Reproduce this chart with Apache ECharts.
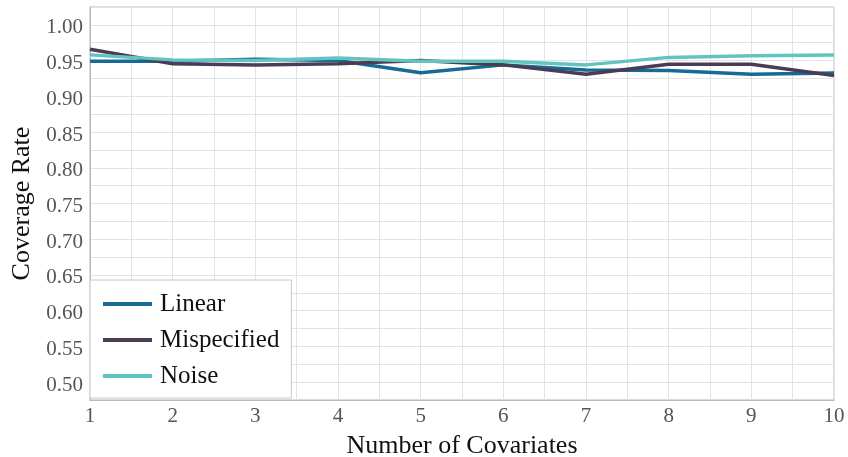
<!DOCTYPE html>
<html><head><meta charset="utf-8">
<script src="https://cdn.jsdelivr.net/npm/echarts@6/dist/echarts.min.js"></script>
<style>html,body{margin:0;padding:0;background:#fff}#c{width:848px;height:457px}</style>
</head><body><div id="c"></div>
<script>
const xValues = [1,2,3,4,5,6,7,8,9,10];
const linear = [0.949,0.949,0.952,0.950,0.933,0.944,0.937,0.936,0.931,0.9325];
const mispecified = [0.966,0.9455,0.944,0.9455,0.950,0.944,0.931,0.945,0.945,0.929];
const noise = [0.958,0.951,0.950,0.9535,0.949,0.949,0.944,0.9545,0.9567,0.9577];
const seriesNames = ['Linear','Mispecified','Noise'];
const colors = ['#166a97','#4b3c53','#62c4c1'];
const FONT = 'Liberation Serif';
const chart = echarts.init(document.getElementById('c'));
const mk = (arr) => xValues.map((x,i)=>[x,arr[i]]);
chart.setOption({
  animation:false,
  textStyle:{fontFamily:FONT},
  grid:{left:90,right:14,top:7,bottom:57,show:true,borderColor:'#b8b8b8',borderWidth:1,
    containLabel:false,outerBoundsMode:'none'},
  legend:{
    left:90,top:280,orient:'vertical',itemWidth:49,itemHeight:4,itemGap:8,
    backgroundColor:'#fff',borderColor:'#c8c8c8',borderWidth:1,padding:[10,12,8,13],
    textStyle:{fontFamily:FONT,fontSize:25,color:'#111',padding:[0,0,0,3],lineHeight:28},
    icon:'rect',
    data:seriesNames
  },
  xAxis:{type:'value',min:1,max:10,interval:0.5,
    name:'Number of Covariates',nameLocation:'middle',nameGap:33,
    nameTextStyle:{fontFamily:FONT,fontSize:26,color:'#111'},
    axisLine:{show:true,lineStyle:{color:'#b8b8b8'}},
    axisTick:{show:false},
    axisLabel:{fontFamily:FONT,fontSize:21,color:'#555',margin:6,
      formatter:v=>Math.abs(v-Math.round(v))<1e-6?String(Math.round(v)):''},
    splitLine:{show:true,lineStyle:{color:'#e3e3e3',width:1}}
  },
  yAxis:{type:'value',min:0.475,max:1.025,interval:0.025,
    name:'Coverage Rate',nameLocation:'middle',nameGap:55,
    nameTextStyle:{fontFamily:FONT,fontSize:26,color:'#111'},
    axisLine:{show:true,lineStyle:{color:'#b8b8b8'}},
    axisTick:{show:false},
    axisLabel:{fontFamily:FONT,fontSize:21,color:'#555',margin:7,
      formatter:v=>{const k=Math.round(v/0.025);return k%2===0?'{a|'+(k*0.025).toFixed(2)+'}':'';},
      rich:{a:{fontFamily:FONT,fontSize:21,color:'#555',padding:[6,0,0,0]}}},
    splitLine:{show:true,lineStyle:{color:'#e3e3e3',width:1}}
  },
  series:[
    {name:seriesNames[0],type:'line',data:mk(linear),showSymbol:false,color:colors[0],lineStyle:{width:3.5,color:colors[0]}},
    {name:seriesNames[1],type:'line',data:mk(mispecified),showSymbol:false,color:colors[1],lineStyle:{width:3.5,color:colors[1]}},
    {name:seriesNames[2],type:'line',data:mk(noise),showSymbol:false,color:colors[2],lineStyle:{width:3.5,color:colors[2]}}
  ]
});
</script></body></html>
